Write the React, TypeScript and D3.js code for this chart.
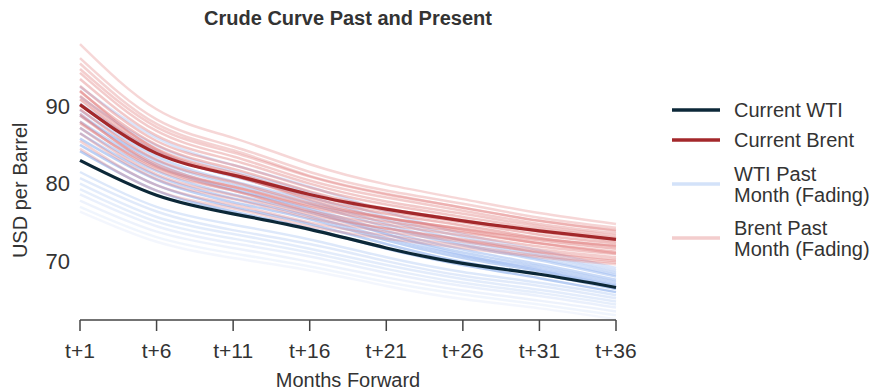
import React from 'react';
import * as d3 from 'd3';

// contract months shown on the x axis (values read at each tick)
const months = [1, 6, 11, 16, 21, 26, 31, 36];
const tickLabels = ['t+1', 't+6', 't+11', 't+16', 't+21', 't+26', 't+31', 't+36'];

const currentWti = [83.0, 78.5, 76.1, 74.1, 71.7, 69.7, 68.3, 66.6];
const currentBrent = [90.2, 83.9, 81.1, 78.6, 76.7, 75.2, 73.9, 72.8];

// past month curves, oldest first
const wtiPast = [
  [76.4, 72.5, 70.4, 68.8, 66.8, 65.1, 63.9, 62.5],
  [77.0, 73.1, 71.0, 69.3, 67.3, 65.7, 64.4, 63.0],
  [77.8, 73.8, 71.7, 69.9, 67.9, 66.2, 64.9, 63.5],
  [78.6, 74.5, 72.3, 70.6, 68.5, 66.8, 65.5, 64.0],
  [79.3, 75.1, 72.9, 71.1, 69.0, 67.2, 65.9, 64.4],
  [80.0, 75.7, 73.5, 71.6, 69.5, 67.7, 66.3, 64.8],
  [80.7, 76.4, 74.0, 72.2, 70.0, 68.1, 66.8, 65.2],
  [81.5, 77.0, 74.7, 72.8, 70.5, 68.6, 67.2, 65.6],
  [92.5, 85.9, 82.4, 79.6, 76.4, 73.5, 71.4, 69.1],
  [91.2, 84.9, 81.6, 78.9, 75.7, 73.1, 71.0, 68.8],
  [89.0, 82.7, 79.3, 76.6, 73.5, 70.8, 68.8, 66.5],
  [90.3, 84.2, 80.9, 78.3, 75.3, 72.6, 70.7, 68.5],
  [89.5, 83.5, 80.3, 77.8, 74.8, 72.2, 70.3, 68.2],
  [88.8, 83.0, 79.9, 77.4, 74.4, 72.0, 70.1, 68.0],
  [88.0, 82.3, 79.2, 76.8, 73.9, 71.5, 69.6, 67.6],
  [87.2, 81.6, 78.6, 76.3, 73.5, 71.1, 69.3, 67.3],
  [86.5, 81.0, 78.1, 75.8, 73.0, 70.7, 69.0, 67.0],
  [85.8, 80.5, 77.6, 75.4, 72.7, 70.4, 68.7, 66.8],
  [85.0, 79.8, 77.0, 74.8, 72.2, 69.9, 68.3, 66.4],
  [84.2, 79.1, 76.4, 74.2, 71.6, 69.5, 67.8, 66.0],
];

const brentPast = [
  [98.0, 89.6, 85.9, 82.5, 79.9, 78.0, 76.2, 74.8],
  [84.5, 79.1, 76.8, 74.5, 72.9, 71.7, 70.5, 69.6],
  [96.2, 88.3, 84.8, 81.5, 79.1, 77.4, 75.6, 74.3],
  [85.5, 79.8, 77.3, 75.0, 73.3, 72.0, 70.7, 69.8],
  [95.5, 87.7, 84.3, 81.0, 78.7, 76.9, 75.2, 73.9],
  [86.5, 80.6, 78.0, 75.6, 73.8, 72.5, 71.2, 70.2],
  [94.8, 87.3, 84.0, 80.9, 78.6, 76.9, 75.2, 74.0],
  [87.2, 81.2, 78.5, 76.0, 74.2, 72.8, 71.5, 70.5],
  [94.3, 86.8, 83.5, 80.4, 78.2, 76.5, 74.8, 73.6],
  [89.0, 82.2, 79.1, 76.3, 74.2, 72.7, 71.1, 70.0],
  [93.5, 86.2, 83.0, 80.0, 77.7, 76.1, 74.5, 73.3],
  [88.0, 81.8, 79.1, 76.5, 74.7, 73.3, 71.9, 70.9],
  [92.6, 85.5, 82.4, 79.5, 77.3, 75.7, 74.2, 73.0],
  [92.0, 84.4, 81.1, 77.9, 75.6, 73.9, 72.3, 71.0],
  [87.8, 82.1, 79.6, 77.2, 75.5, 74.2, 72.9, 72.0],
  [91.9, 85.0, 81.9, 79.0, 76.8, 75.3, 73.8, 72.6],
  [88.8, 82.5, 79.6, 77.0, 75.1, 73.7, 72.3, 71.2],
  [91.3, 84.5, 81.4, 78.6, 76.5, 75.0, 73.4, 72.3],
  [89.6, 83.1, 80.2, 77.5, 75.6, 74.1, 72.7, 71.6],
  [90.9, 84.1, 81.0, 78.2, 76.1, 74.6, 73.0, 71.9],
];

const yTicks = [70, 80, 90];

const legendItems = [
  { label: ['Current WTI'], color: '#0c2838', y: 110 },
  { label: ['Current Brent'], color: '#a3282b', y: 140 },
  { label: ['WTI Past', 'Month (Fading)'], color: '#d3e2f9', y: 184 },
  { label: ['Brent Past', 'Month (Fading)'], color: '#f3cdcd', y: 238 },
];

const W = 882;
const H = 391;
const FONT = '"Liberation Sans", Arial, Helvetica, sans-serif';
const TEXT = '#333333';

export default function App() {
  const x = d3.scaleLinear().domain([1, 36]).range([80, 616]);
  const y = d3.scaleLinear().domain([62.4, 98.2]).range([320, 42.6]);

  const line = d3
    .line<number>()
    .x((_, i) => x(months[i]))
    .y((d) => y(d))
    .curve(d3.curveNatural);

  const wtiAlpha = d3.scaleLinear().domain([0, wtiPast.length - 1]).range([0.12, 0.7]);
  const brentAlpha = d3.scaleLinear().domain([0, brentPast.length - 1]).range([0.3, 0.5]);

  return (
    <svg width={W} height={H} style={{ position: 'absolute', left: 0, top: 0, background: '#fff' }}>
      <text x={348} y={25} textAnchor="middle" fontFamily={FONT} fontWeight="bold" fontSize={20} fill={TEXT}>
        Crude Curve Past and Present
      </text>

      <g>
        {wtiPast.map((d, i) => (
          <path key={'w' + i} d={line(d) || ''} fill="none" stroke="#9ab9f0" strokeOpacity={wtiAlpha(i)} strokeWidth={2.5} />
        ))}
        {brentPast.map((d, i) => (
          <path key={'b' + i} d={line(d) || ''} fill="none" stroke="#e07a7a" strokeOpacity={brentAlpha(i)} strokeWidth={2.5} />
        ))}
        <path d={line(currentBrent) || ''} fill="none" stroke="#a3282b" strokeWidth={3.2} />
        <path d={line(currentWti) || ''} fill="none" stroke="#0c2838" strokeWidth={3.2} />
      </g>

      {/* y axis: labels only */}
      {yTicks.map((t) => (
        <text key={t} x={70} y={y(t)} dy="0.35em" textAnchor="end" fontFamily={FONT} fontSize={22} fill={TEXT}>
          {t}
        </text>
      ))}
      <text
        transform={`translate(27,${(y(62.4) + y(98.2)) / 2 + 9}) rotate(-90)`}
        textAnchor="middle"
        fontFamily={FONT}
        fontSize={20}
        fill={TEXT}
      >
        USD per Barrel
      </text>

      {/* x axis */}
      <line x1={x(1)} x2={x(36)} y1={320} y2={320} stroke="#444" strokeWidth={1.5} />
      {months.map((m, i) => (
        <g key={m} transform={`translate(${x(m)},0)`}>
          <line y1={320} y2={331} stroke="#444" strokeWidth={1.5} />
          <text y={358} textAnchor="middle" fontFamily={FONT} fontSize={21} fill={TEXT}>
            {tickLabels[i]}
          </text>
        </g>
      ))}
      <text x={348} y={387} textAnchor="middle" fontFamily={FONT} fontSize={20} fill={TEXT}>
        Months Forward
      </text>

      {/* legend */}
      {legendItems.map((it) => (
        <g key={it.label[0]}>
          <line x1={672} x2={720} y1={it.y} y2={it.y} stroke={it.color} strokeWidth={3.5} />
          {it.label.map((l, j) => (
            <text
              key={l}
              x={734}
              y={it.y + (j - (it.label.length - 1) / 2) * 21}
              dy="0.36em"
              fontFamily={FONT}
              fontSize={20}
              fill={TEXT}
            >
              {l}
            </text>
          ))}
        </g>
      ))}
    </svg>
  );
}
